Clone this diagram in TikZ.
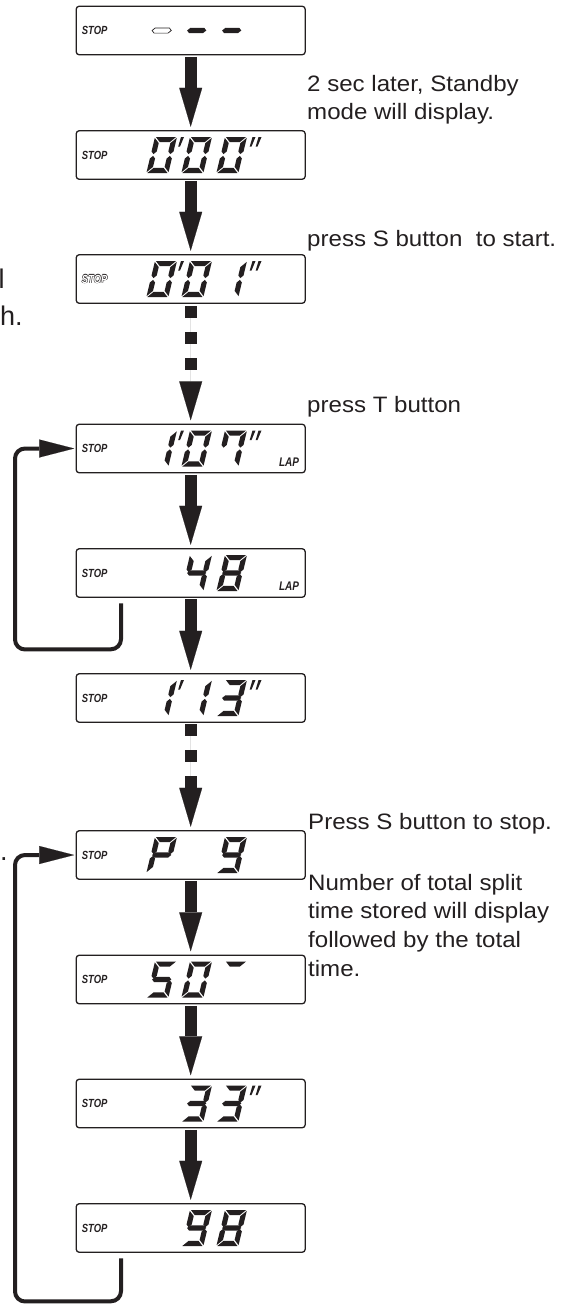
\documentclass[tikz,border=0pt]{standalone}
\usepackage{fontspec}
\setmainfont{Liberation Sans}
\newfontfamily\lcdfont[FakeStretch=0.8]{Liberation Sans}
\newfontfamily\notefont[FakeStretch=1.08]{Liberation Sans}
\usetikzlibrary{arrows.meta}
\definecolor{lcdink}{HTML}{231F20}
\newcommand\hollowtxt[1]{\leavevmode\rlap{\kern-0.5pt#1}\rlap{\kern0.5pt#1}\rlap{\raisebox{0.5pt}{#1}}\rlap{\raisebox{-0.5pt}{#1}}\textcolor{white}{#1}}
\tikzset{
  lcdseg/.style={fill=lcdink},
  pics/sega/.style={code={\path[lcdseg] (0.9,0) -- (21.1,0) -- (15.9,5.2) -- (6.1,5.2) -- cycle;}},
  pics/segd/.style={code={\path[lcdseg] (0.9,36) -- (21.1,36) -- (15.9,30.8) -- (6.1,30.8) -- cycle;}},
  pics/segg/.style={code={\path[lcdseg] (1.4,18) -- (4,15.4) -- (18,15.4) -- (20.6,18) -- (18,20.6) -- (4,20.6) -- cycle;}},
  pics/segf/.style={code={\path[lcdseg] (0,0.9) -- (5.2,6.1) -- (5.2,14.5) -- (2.6,17.1) -- (0,14.5) -- cycle;}},
  pics/segb/.style={code={\path[lcdseg] (22,0.9) -- (16.8,6.1) -- (16.8,14.5) -- (19.4,17.1) -- (22,14.5) -- cycle;}},
  pics/sege/.style={code={\path[lcdseg] (0,21.5) -- (2.6,18.9) -- (5.2,21.5) -- (5.2,29.9) -- (0,35.1) -- cycle;}},
  pics/segc/.style={code={\path[lcdseg] (22,21.5) -- (19.4,18.9) -- (16.8,21.5) -- (16.8,29.9) -- (22,35.1) -- cycle;}},
  pics/digit/.style={code={\begin{scope}[xslant=0.24]\foreach \s in {#1}{\pic[transform shape] {seg\s};}\end{scope}}},
  pics/tick/.style={code={\begin{scope}[xslant=0.24]\path[lcdseg] (0,0) -- (3,0) -- (1.3,9.5) -- (-0.5,9.5) -- cycle;\end{scope}}},
  lcdbox/.style={draw=lcdink, line width=1.3pt, rounded corners=3pt, minimum width=229pt, minimum height=48.5pt, inner sep=0pt, outer sep=0pt},
  stoplbl/.style={anchor=west, inner sep=0pt, text=lcdink, font=\lcdfont\fontsize{11.8}{12}\selectfont\bfseries\itshape},
  laplbl/.style={anchor=base east, inner sep=0pt, text=lcdink, font=\lcdfont\fontsize{12.5}{13}\selectfont\bfseries\itshape},
  txt/.style={anchor=base west, inner sep=0pt, text=lcdink, font=\notefont\fontsize{22.3}{28}\selectfont},
  frag/.style={anchor=base west, inner sep=0pt, text=lcdink, font=\fontsize{27}{32}\selectfont},
  flowarrow/.style={draw=lcdink, fill=lcdink, line width=12pt, -{Triangle[width=23pt,length=39pt,line width=0.1pt]}},
  dasharrow/.style={flowarrow, dash pattern=on 12pt off 14pt},
  looparrow/.style={draw=lcdink, line width=4pt, rounded corners=10pt, -{Triangle[width=18pt,length=35pt,line width=0.1pt]}}
}
\begin{document}
\begin{tikzpicture}[x=1pt,y=-1pt]
\useasboundingbox (0,0) rectangle (560,1307);
% display boxes
\node[lcdbox] (b1) at (190.7,30.5) {};
\node[lcdbox] (b2) at (190.7,155) {};
\node[lcdbox] (b3) at (190.7,279) {};
\node[lcdbox] (b4) at (190.7,448.5) {};
\node[lcdbox] (b5) at (190.7,573) {};
\node[lcdbox] (b6) at (190.7,698) {};
\node[lcdbox] (b7) at (190.7,855) {};
\node[lcdbox] (b8) at (190.7,979.5) {};
\node[lcdbox] (b9) at (190.7,1103.5) {};
\node[lcdbox] (b10) at (190.7,1228) {};
% STOP labels
\foreach \b in {1,2,4,5,6,7,8,9,10} {\node[stoplbl] (s\b) at ([xshift=5.5pt]b\b.west) {STOP};}
\node[stoplbl] (s3) at ([xshift=5.5pt]b3.west) {\hollowtxt{STOP}};
% LAP labels
\node[laplbl] (l4) at ([xshift=-6pt,yshift=6.5pt]b4.south east) {LAP};
\node[laplbl] (l5) at ([xshift=-6pt,yshift=6.5pt]b5.south east) {LAP};
% box 1: dashes
\begin{scope}[lcdseg/.style={draw=lcdink,line width=0.7pt}]
\pic at (155,12.5) {digit={g}};
\end{scope}
\pic at (190,12.5) {digit={g}};
\pic at (225,12.5) {digit={g}};
% box 2: 0'00"
\pic at (155,137) {digit={a,b,c,d,e,f}};
\pic at (181,137) {tick};
\pic at (190,137) {digit={a,b,c,d,e,f}};
\pic at (225,137) {digit={a,b,c,d,e,f}};
\pic at (252.5,137) {tick};
\pic at (258.5,137) {tick};
% box 3: 0'01"
\pic at (155,261) {digit={a,b,c,d,e,f}};
\pic at (181,261) {tick};
\pic at (190,261) {digit={a,b,c,d,e,f}};
\pic at (225,261) {digit={b,c}};
\pic at (252.5,261) {tick};
\pic at (258.5,261) {tick};
% box 4: 1'07"
\pic at (155,430.5) {digit={b,c}};
\pic at (181,430.5) {tick};
\pic at (190,430.5) {digit={a,b,c,d,e,f}};
\pic at (225,430.5) {digit={a,b,c,f}};
\pic at (252.5,430.5) {tick};
\pic at (258.5,430.5) {tick};
% box 5: 48
\pic at (190,555) {digit={f,g,b,c}};
\pic at (225,555) {digit={a,b,c,d,e,f,g}};
% box 6: 1'13"
\pic at (155,680) {digit={b,c}};
\pic at (181,680) {tick};
\pic at (190,680) {digit={b,c}};
\pic at (225,680) {digit={a,b,g,c,d}};
\pic at (252.5,680) {tick};
\pic at (258.5,680) {tick};
% box 7: P 9
\pic at (155,837) {digit={a,b,e,f,g}};
\pic at (225,837) {digit={a,b,c,d,f,g}};
% box 8: 50-
\pic at (155,961.5) {digit={a,f,g,c,d}};
\pic at (190,961.5) {digit={a,b,c,d,e,f}};
\pic at (225,961.5) {digit={a}};
% box 9: 33"
\pic at (190,1085.5) {digit={a,b,g,c,d}};
\pic at (225,1085.5) {digit={a,b,g,c,d}};
\pic at (252.5,1085.5) {tick};
\pic at (258.5,1085.5) {tick};
% box 10: 98
\pic at (190,1210) {digit={a,b,c,d,f,g}};
\pic at (225,1210) {digit={a,b,c,d,e,f,g}};
% flow arrows
\draw[flowarrow] ([yshift=-2pt]b1.south) -- ([yshift=4pt]b2.north);
\draw[flowarrow] ([yshift=-2pt]b2.south) -- ([yshift=4pt]b3.north);
\draw[dasharrow] ([yshift=-3pt]b3.south) -- ([yshift=4pt]b4.north);
\draw[flowarrow] ([yshift=-2pt]b4.south) -- ([yshift=4pt]b5.north);
\draw[flowarrow] ([yshift=-2pt]b5.south) -- ([yshift=4pt]b6.north);
\draw[dasharrow] ([yshift=-2pt]b6.south) -- ([yshift=4pt]b7.north);
\draw[flowarrow] ([yshift=-2pt]b7.south) -- ([yshift=4pt]b8.north);
\draw[flowarrow] ([yshift=-2pt]b8.south) -- ([yshift=4pt]b9.north);
\draw[flowarrow] ([yshift=-2pt]b9.south) -- ([yshift=4pt]b10.north);
% loop arrows
\draw[looparrow] ([xshift=-69.7pt,yshift=-6pt]b5.south) -- ++(0,46) -- (15,649.5) |- ([xshift=-2pt]b4.west);
\draw[looparrow] ([xshift=-69.7pt,yshift=-6pt]b10.south) -- ++(0,43) -- (15,1301.5) |- ([xshift=-2pt]b7.west);
% explanatory texts
\node[txt] (t1) at (307,91) {2 sec later, Standby};
\node[txt] (t2) at (307,119) {mode will display.};
\node[txt] (t3) at (307,246) {press S button~ to start.};
\node[txt] (t4) at (307,412) {press T button};
\node[txt] (t5) at (308,829.5) {Press S button to stop.};
\node[txt] (t6) at (308,890) {Number of total split};
\node[txt] (t7) at (308,918.5) {time stored will display};
\node[txt] (t8) at (308,947) {followed by the total};
\node[txt] (t9) at (308,976.5) {time.};
% cut-off fragments at the left edge
\node[frag] (f1) at (-1.5,288) {l};
\node[frag] (f2) at (0,325) {h.};
\node[frag] (f3) at (0,860) {.};
\end{tikzpicture}
\end{document}
